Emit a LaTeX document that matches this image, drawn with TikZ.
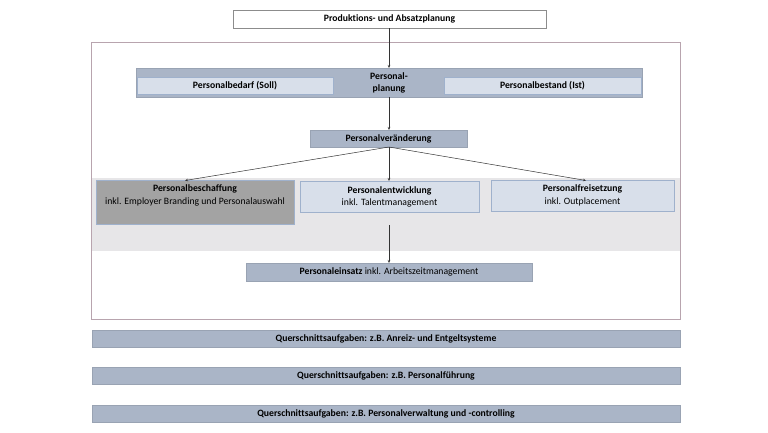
\documentclass[tikz,border=0pt]{standalone}
\usepackage{fontspec}
\setmainfont{Carlito}[Ligatures=CommonOff]
\usetikzlibrary{arrows.meta}
\begin{document}
\begin{tikzpicture}[x=1pt,y=-1pt,
  every node/.style={inner sep=0pt,outer sep=0pt,font=\fontsize{9.7}{12.5}\selectfont,align=center},
  bf/.style={font=\fontsize{9.7}{12.5}\selectfont\bfseries},
  darkbox/.style={fill=bandblue,draw=bandblue!90!black,line width=0.5pt},
  lightbox/.style={fill=lightblue,draw=borderblue,line width=0.8pt},
  arr/.style={-{Stealth[length=3pt,width=2.5pt]},line width=0.5pt,draw=black!80}]
\definecolor{bandblue}{HTML}{AAB5C7}
\definecolor{lightblue}{HTML}{D8DFEA}
\definecolor{borderblue}{HTML}{9FB1CC}
\definecolor{framecol}{HTML}{B8A4AE}
\definecolor{grayband}{HTML}{E7E6E8}
\definecolor{darkgray}{HTML}{A3A3A3}
\useasboundingbox (0,0) rectangle (768,432);
\fill[white] (0,0) rectangle (768,432);
% frame
\node[draw=framecol,line width=0.8pt,minimum width=589pt,minimum height=277pt] (frame) at (385.5,180.5) {};
% gray band
\fill[grayband] (91.5,178) rectangle (679.5,251);
% top
\node[bf,draw=black!45,fill=white,line width=0.6pt,minimum width=313pt,minimum height=18pt] (top) at (389.5,19) {Produktions- und Absatzplanung};
% Personalplanung band
\node[darkbox,minimum width=506pt,minimum height=29pt] (pp) at (389,82.5) {};
\node[bf] (pptext) at (389,83) {Personal-\\[0pt]planung};
\node[bf,lightbox,minimum width=196pt,minimum height=17pt] (soll) at (235,85.5) {Personalbedarf (Soll)};
\node[bf,lightbox,minimum width=197pt,minimum height=17pt] (ist) at (542.5,85.5) {Personalbestand (Ist)};
% Personalveraenderung
\node[bf,darkbox,minimum width=157pt,minimum height=17pt] (pv) at (388.5,138.5) {Personalveränderung};
% three boxes
\node[fill=darkgray,draw=borderblue,line width=0.8pt,minimum width=198pt,minimum height=44pt,anchor=north] (pb) at (195,180) {};
\node[anchor=north] (pbt) at (195,185) {\textbf{Personalbeschaffung}\\[0pt]inkl. Employer Branding und Personalauswahl};
\node[lightbox,minimum width=179pt,minimum height=31pt,anchor=north] (pe) at (389.5,181) {};
\node[anchor=north] (pet) at (389.5,186.5) {\textbf{Personalentwicklung}\\[0pt]inkl. Talentmanagement};
\node[lightbox,minimum width=183pt,minimum height=31pt,anchor=north] (pf) at (582.5,180) {};
\node[anchor=north] (pft) at (582.5,185) {\textbf{Personalfreisetzung}\\[0pt]inkl. Outplacement};
% Personaleinsatz
\node[darkbox,minimum width=286pt,minimum height=18pt] (pei) at (389,272) {\textbf{Personaleinsatz} inkl. Arbeitszeitmanagement};
% Querschnitt
\node[bf,darkbox,minimum width=588pt,minimum height=17pt] (q1) at (386,338.5) {Querschnittsaufgaben: z.B. Anreiz- und Entgeltsysteme};
\node[bf,darkbox,minimum width=588pt,minimum height=17pt] (q2) at (386,376) {Querschnittsaufgaben: z.B. Personalführung};
\node[bf,darkbox,minimum width=588pt,minimum height=17pt] (q3) at (386,413.5) {Querschnittsaufgaben: z.B. Personalverwaltung und -controlling};
% arrows
\draw[arr] (top.south -| 389,0) -- (pp.north -| 389,0);
\draw[arr] (pp.south -| 389,0) -- (pv.north -| 389,0);
\coordinate (pvs) at (389,147);
\draw[arr] (pvs) -- (185,180.5);
\draw[arr] (pvs) -- (pe.north -| 389,0);
\draw[arr] (pvs) -- (586,180.5);
\coordinate (pes) at (389,225);
\draw[arr] (pes) -- (pei.north -| 389,0);
\end{tikzpicture}
\end{document}
